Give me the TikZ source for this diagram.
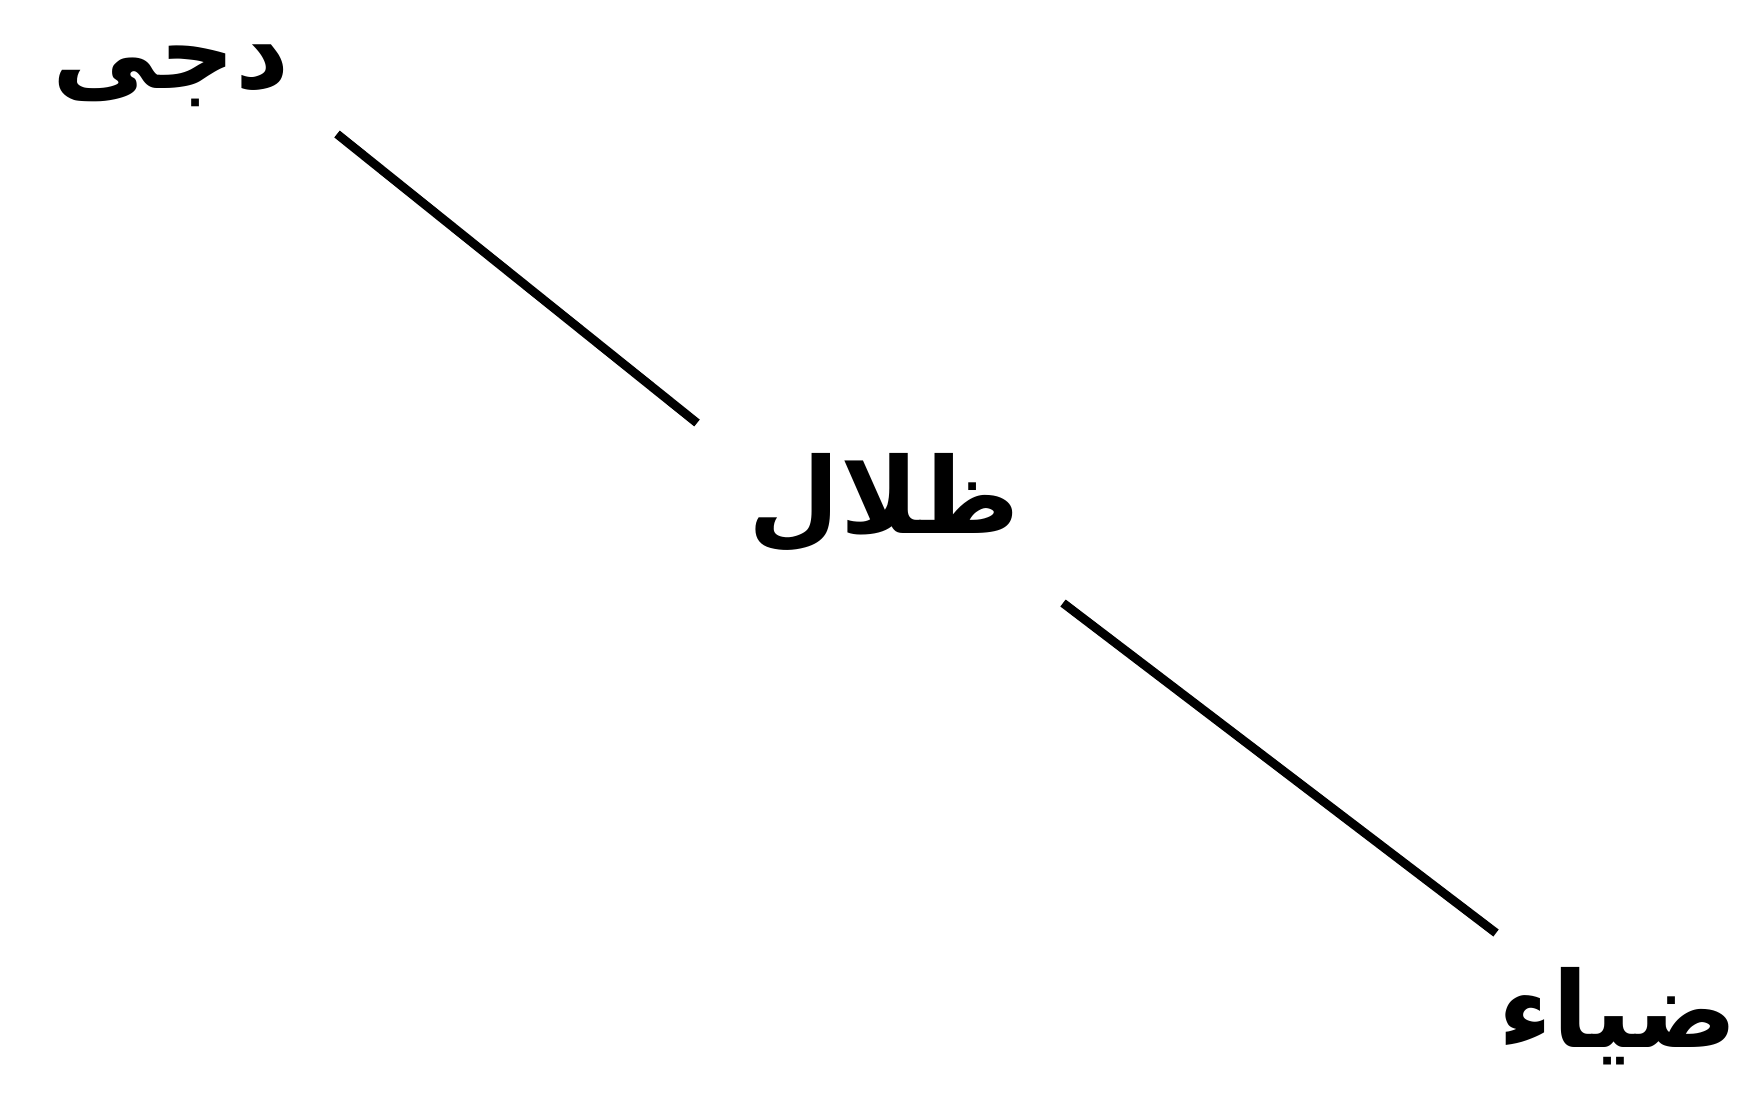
\documentclass[tikz,border=0pt]{standalone}
\usepackage{fontspec}
\newfontfamily\arabicfont[Script=Arabic]{DejaVu Sans}
\TeXXeTstate=1
\usetikzlibrary{positioning}

\begin{document}
\begin{tikzpicture}[
  x=0.02cm, y=-0.02cm,
  word/.style={font=\arabicfont\bfseries\fontsize{60}{64}\selectfont,
               inner sep=0pt},
  link/.style={line width=5pt}
]
\useasboundingbox (0,0) rectangle (1763,1096);
\node[word] (dujaa) at (171,76) {\beginR دجى\endR};
\node[word] (zilal) at (884,503) {\beginR ظلال\endR};
\node[word] (diyaa) at (1618,1016) {\beginR ضياء\endR};
% line ends
\coordinate (dujaa-out) at (337,134);
\coordinate (zilal-in) at (697,423);
\coordinate (zilal-out) at (1063,603);
\coordinate (diyaa-in) at (1496,933);
\draw[link] (dujaa-out) -- (zilal-in);
\draw[link] (zilal-out) -- (diyaa-in);
\end{tikzpicture}
\end{document}
